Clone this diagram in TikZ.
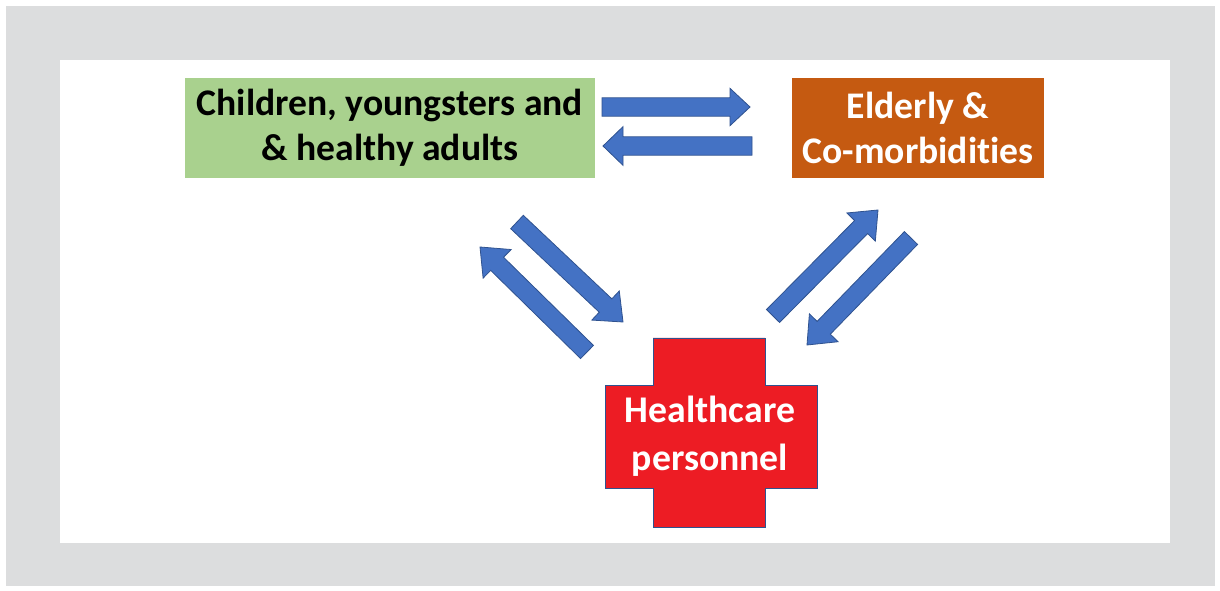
\documentclass[tikz,border=0pt]{standalone}
\usepackage{fontspec}
\setmainfont{Carlito}[Ligatures={NoCommon}]
\usetikzlibrary{calc}
\definecolor{framegray}{RGB}{220,221,222}
\definecolor{boxgreen}{RGB}{169,209,142}
\definecolor{boxorange}{RGB}{197,90,17}
\definecolor{arrowblue}{RGB}{68,114,196}
\definecolor{arrowedge}{RGB}{47,82,143}
\definecolor{crossred}{RGB}{237,28,36}

% block arrow: #1 tail, #2 tip, #3 half shaft width, #4 half head width, #5 head length
\newcommand\blockarrow[5]{%
  \coordinate (ba-h) at ($(#2)!#5!(#1)$);
  \filldraw[blockarrow]
    ($(#1)!#3!90:(#2)$) -- ($(ba-h)!#3!90:(#2)$) -- ($(ba-h)!#4!90:(#2)$) -- (#2)
    -- ($(ba-h)!#4!-90:(#2)$) -- ($(ba-h)!#3!-90:(#2)$) -- ($(#1)!#3!-90:(#2)$) -- cycle;
}

\begin{document}
\begin{tikzpicture}[x=0.75pt,y=-0.75pt,
  blockarrow/.style={fill=arrowblue,draw=arrowedge,line width=0.6pt,line join=miter},
  group/.style={inner sep=0pt,align=center,font=\bfseries\fontsize{28.2}{33.8}\selectfont}]
  \useasboundingbox (0,0) rectangle (1220,591);
  % frame and white panel
  \fill[framegray] (6,6) rectangle (1215,586);
  \fill[white] (60,60) rectangle (1170,543);

  % population groups
  \fill[boxgreen] (185,78) rectangle (595,178);
  \node[group,text=black] (kids) at (390,128) {Children, youngsters and\\\& healthy adults};
  \fill[boxorange] (792,78) rectangle (1044,178);
  \node[group,text=white] (elder) at (918,128) {Elderly \&\\Co-morbidities};

  % healthcare cross
  \filldraw[fill=crossred,draw=arrowedge,line width=0.6pt]
    (653,338) -- (765,338) -- (765,385) -- (817,385) -- (817,488) -- (765,488)
    -- (765,527) -- (653,527) -- (653,488) -- (605,488) -- (605,385) -- (653,385) -- cycle;
  \node[group,text=white,font=\bfseries\fontsize{28.3}{36}\selectfont] (hcp) at (710,436) {Healthcare\\personnel};

  % arrow end points
  \coordinate (ke-s) at (602,107);  \coordinate (ke-t) at (750,107);
  \coordinate (ek-s) at (752,146);  \coordinate (ek-t) at (603,146);
  \coordinate (kh-s) at (517,222);  \coordinate (kh-t) at (623,322);
  \coordinate (hk-s) at (587,352);  \coordinate (hk-t) at (480,247);
  \coordinate (he-s) at (773,316);  \coordinate (he-t) at (878,210);
  \coordinate (eh-s) at (911,238);  \coordinate (eh-t) at (807,345);

  \blockarrow{ke-s}{ke-t}{6.9pt}{14pt}{15pt}
  \blockarrow{ek-s}{ek-t}{6.9pt}{14.5pt}{15pt}
  \blockarrow{kh-s}{kh-t}{6.9pt}{15pt}{18pt}
  \blockarrow{hk-s}{hk-t}{6.9pt}{15pt}{18pt}
  \blockarrow{he-s}{he-t}{6.9pt}{15pt}{18pt}
  \blockarrow{eh-s}{eh-t}{6.9pt}{15pt}{18pt}
\end{tikzpicture}
\end{document}
